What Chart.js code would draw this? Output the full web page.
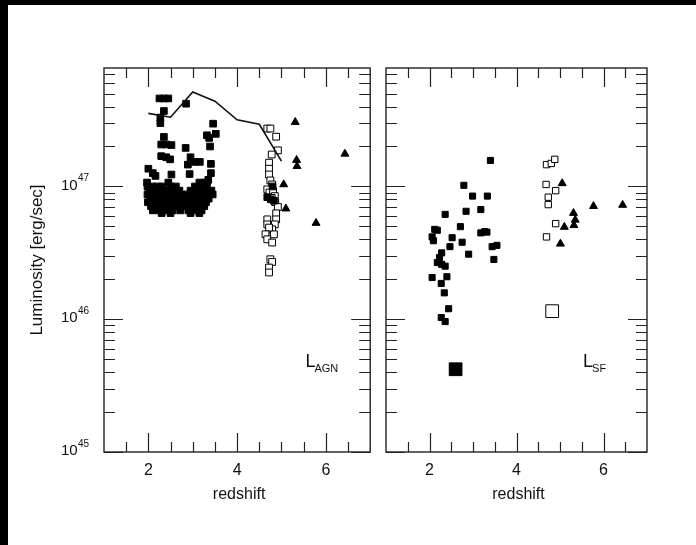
<!DOCTYPE html>
<html>
<head>
<meta charset="utf-8">
<script src="https://cdn.jsdelivr.net/npm/chart.js@4.4.1/dist/chart.umd.min.js"></script>
<style>
  html, body { margin: 0; padding: 0; background: #fff; }
  body { width: 696px; height: 545px; position: relative; overflow: hidden; }
  canvas { position: absolute; top: 0; }
  #left { left: 0; }
  #right { left: 376px; }
  .band { position: absolute; background: #000; z-index: 5; }
</style>
</head>
<body>
<div class="band" style="left:0;top:0;width:696px;height:5px"></div>
<div class="band" style="left:0;top:0;width:8px;height:545px"></div>
<canvas id="left" width="376" height="545"></canvas>
<canvas id="right" width="320" height="545"></canvas>
<script>
// axes
const xMin = 1, xMax = 7;
const yMin = 1e45, yMax = 7.8e47;
const xTickLabels = [2, 4, 6];
const xMinorTicks = [1.5, 2.5, 3, 3.5, 4.5, 5, 5.5, 6.5];
const yTickExps = [45, 46, 47];

// left panel: L_AGN
const agnFilled = [
  [2.25,4.6e47],[2.35,4.6e47],[2.45,4.6e47],[2.85,4.2e47],[2.35,3.7e47],
  [2.27,3.3e47],[2.27,3.0e47],[3.46,2.97e47],[3.32,2.43e47],[3.52,2.49e47],
  [3.37,2.32e47],[2.35,2.36e47],[3.39,2.0e47],[2.29,2.07e47],[2.40,2.07e47],
  [2.52,2.05e47],[2.84,1.95e47],[2.29,1.69e47],[2.40,1.66e47],[2.49,1.6e47],
  [2.95,1.66e47],[2.89,1.46e47],[3.04,1.53e47],[3.16,1.53e47],[3.41,1.48e47],
  [2.0,1.36e47],[2.1,1.26e47],[2.16,1.2e47],[2.52,1.23e47],[2.93,1.24e47],
  [3.41,1.26e47],[3.35,1.12e47],
  [1.97,1.07e47],[2.45,1.07e47],[3.15,1.07e47],[3.28,1.07e47],
  [1.98,1.0e47],[2.08,1.0e47],[2.2,1.0e47],[2.32,1.0e47],[2.5,1.0e47],[2.62,1.0e47],[3.05,1.0e47],[3.2,1.0e47],[3.32,1.0e47],
  [2.02,9.3e46],[2.14,9.3e46],[2.26,9.3e46],[2.4,9.3e46],[2.55,9.3e46],[2.7,9.3e46],[2.95,9.3e46],[3.1,9.3e46],[3.25,9.3e46],[3.42,9.3e46],
  [1.98,8.7e46],[2.1,8.7e46],[2.22,8.7e46],[2.35,8.7e46],[2.48,8.7e46],[2.6,8.7e46],[2.75,8.7e46],[2.88,8.7e46],[3.0,8.7e46],[3.15,8.7e46],[3.3,8.7e46],[3.45,8.7e46],
  [2.04,8.1e46],[2.16,8.1e46],[2.3,8.1e46],[2.42,8.1e46],[2.56,8.1e46],[2.68,8.1e46],[2.82,8.1e46],[2.95,8.1e46],[3.08,8.1e46],[3.22,8.1e46],[3.36,8.1e46],
  [1.99,7.6e46],[2.12,7.6e46],[2.25,7.6e46],[2.38,7.6e46],[2.5,7.6e46],[2.64,7.6e46],[2.78,7.6e46],[2.9,7.6e46],[3.02,7.6e46],[3.18,7.6e46],[3.3,7.6e46],
  [2.06,7.1e46],[2.2,7.1e46],[2.33,7.1e46],[2.46,7.1e46],[2.6,7.1e46],[2.74,7.1e46],[2.86,7.1e46],[3.0,7.1e46],[3.12,7.1e46],[3.26,7.1e46],
  [2.1,6.6e46],[2.26,6.6e46],[2.4,6.6e46],[2.55,6.6e46],[2.72,6.6e46],[2.9,6.6e46],[3.06,6.6e46],[3.2,6.6e46],
  [2.3,6.3e46],[2.5,6.3e46],[2.95,6.3e46],[3.15,6.3e46],
  [4.68,8.3e46],[4.76,8.0e46],[4.83,7.8e46],[4.8,1.0e47]
];
const agnOpen = [
  [4.68,2.73e47],[4.75,2.73e47],[4.88,2.37e47],[4.92,1.87e47],[4.78,1.74e47],
  [4.72,1.51e47],[4.72,1.36e47],[4.72,1.23e47],[4.75,1.11e47],[4.79,1.035e47],
  [4.68,9.5e46],[4.73,9.0e46],[4.81,9.2e46],[4.85,8.46e46],[4.78,8.2e46],
  [4.86,7.62e46],[4.92,7.0e46],[4.88,6.27e46],[4.88,5.65e46],[4.85,5.18e46],
  [4.79,4.75e46],[4.83,4.36e46],[4.68,5.65e46],[4.68,5.18e46],[4.72,4.9e46],
  [4.64,4.36e46],[4.68,4.0e46],[4.79,3.78e46],
  [4.75,2.83e46],[4.79,2.7e46],[4.72,2.45e46],[4.72,2.25e46]
];
const agnTriangles = [
  [5.31,3.05e47],[5.34,1.58e47],[5.35,1.42e47],[5.05,1.035e47],
  [5.10,6.8e46],[5.78,5.3e46],[6.43,1.76e47]
];
const agnLineZ = [2.0, 2.5, 3.0, 3.5, 4.0, 4.5, 5.0];
const agnLineL = [3.55e47, 3.32e47, 5.15e47, 4.39e47, 3.18e47, 2.94e47, 1.55e47];

// right panel: L_SF
const sfFilled = [
  [3.40,1.57e47],[2.79,1.02e47],[2.99,8.46e46],[3.33,8.46e46],[3.18,6.7e46],
  [2.84,6.5e46],[2.36,6.16e46],[2.71,4.98e46],[2.12,4.75e46],[2.18,4.68e46],
  [2.06,4.17e46],[2.09,3.9e46],[3.18,4.47e46],[3.27,4.57e46],[3.32,4.53e46],
  [2.52,4.11e46],[2.75,3.8e46],[2.47,3.52e46],[3.44,3.52e46],[3.55,3.6e46],
  [2.90,3.09e46],[2.28,3.16e46],[2.23,2.91e46],[2.18,2.67e46],[2.28,2.59e46],
  [2.36,2.51e46],[3.48,2.82e46],[2.40,2.09e46],[2.06,2.06e46],[2.27,1.86e46],
  [2.34,1.58e46],[2.44,1.2e46],[2.27,1.03e46],[2.36,9.6e45]
];
const sfOpen = [
  [4.69,1.46e47],[4.80,1.49e47],[4.88,1.6e47],[4.68,1.035e47],[4.90,9.3e46],
  [4.73,8.3e46],[4.73,7.3e46],[4.90,5.25e46],[4.69,4.17e46]
];
const sfTriangles = [
  [5.05,1.055e47],[5.77,7.1e46],[6.44,7.25e46],[5.31,6.3e46],
  [5.35,5.6e46],[5.32,5.1e46],[5.10,4.95e46],[5.01,3.7e46]
];
const sfBigFilled = [[2.60,4.2e45]];
const sfBigOpen = [[4.82,1.15e46]];

const FONT = "'Liberation Sans', Arial, sans-serif";

function pts(list) {
  return list.map(p => ({x: p[0], y: p[1]}));
}

function scatter(list, style, fill, radius) {
  return {
    type: 'scatter',
    data: pts(list),
    pointStyle: style,
    pointRadius: radius,
    pointBackgroundColor: fill,
    pointBorderColor: '#000',
    pointBorderWidth: 1,
    showLine: false
  };
}

const framePlugin = {
  id: 'framePlugin',
  afterDraw(chart, args, opts) {
    const ctx = chart.ctx, a = chart.chartArea;
    const xs = chart.scales.x, ys = chart.scales.y;
    ctx.save();
    ctx.strokeStyle = '#222';
    ctx.lineWidth = 1.4;
    ctx.strokeRect(a.left, a.top, a.right - a.left, a.bottom - a.top);

    ctx.beginPath();
    const xTick = (v, len) => {
      const px = Math.round(xs.getPixelForValue(v)) + 0.5;
      ctx.moveTo(px, a.bottom); ctx.lineTo(px, a.bottom - len);
      ctx.moveTo(px, a.top); ctx.lineTo(px, a.top + len);
    };
    xTickLabels.forEach(v => xTick(v, 19));
    xMinorTicks.forEach(v => xTick(v, 10));

    const yTick = (v, len) => {
      const py = Math.round(ys.getPixelForValue(v)) + 0.5;
      ctx.moveTo(a.left, py); ctx.lineTo(a.left + len, py);
      ctx.moveTo(a.right, py); ctx.lineTo(a.right - len, py);
    };
    yTickExps.forEach(e => {
      yTick(Math.pow(10, e), 19);
      for (let m = 2; m <= 9; m++) {
        const v = m * Math.pow(10, e);
        if (v < yMax) yTick(v, 11);
      }
    });
    ctx.lineWidth = 1.2;
    ctx.stroke();

    ctx.fillStyle = '#111';
    ctx.textAlign = 'center';
    ctx.textBaseline = 'middle';
    ctx.font = '16px ' + FONT;
    xTickLabels.forEach(v => ctx.fillText(String(v), xs.getPixelForValue(v), 471));
    ctx.fillText('redshift', (a.left + a.right) / 2 + 2, 495);

    if (opts.yLabels) {
      yTickExps.forEach(e => {
        const py = ys.getPixelForValue(Math.pow(10, e));
        ctx.textAlign = 'left';
        ctx.font = '15px ' + FONT;
        ctx.fillText('10', 61, py - 1);
        ctx.font = '10px ' + FONT;
        ctx.fillText(String(e), 78, py - 8);
      });
      ctx.save();
      ctx.translate(37, (a.top + a.bottom) / 2);
      ctx.rotate(-Math.PI / 2);
      ctx.textAlign = 'center';
      ctx.font = '17px ' + FONT;
      ctx.fillText('Luminosity [erg/sec]', 0, 0);
      ctx.restore();
    }

    // panel tag
    const lx = xs.getPixelForValue(opts.tagX), ly = ys.getPixelForValue(opts.tagY);
    ctx.textAlign = 'left';
    ctx.textBaseline = 'alphabetic';
    ctx.font = '18px ' + FONT;
    ctx.fillText('L', lx, ly);
    ctx.font = '11px ' + FONT;
    ctx.fillText(opts.tagSub, lx + 9, ly + 5);
    ctx.restore();
  }
};

function makeChart(id, datasets, padding, tag) {
  return new Chart(document.getElementById(id), {
    type: 'scatter',
    data: { datasets: datasets },
    options: {
      responsive: false,
      animation: false,
      layout: { padding: padding },
      plugins: {
        legend: { display: false },
        tooltip: { enabled: false },
        framePlugin: tag
      },
      scales: {
        x: { type: 'linear', min: xMin, max: xMax, display: false },
        y: { type: 'logarithmic', min: yMin, max: yMax, display: false }
      }
    },
    plugins: [framePlugin]
  });
}

makeChart('left', [
  {
    type: 'line',
    data: agnLineZ.map((z, i) => ({x: z, y: agnLineL[i]})),
    borderColor: '#111',
    borderWidth: 1.6,
    pointRadius: 0,
    tension: 0,
    fill: false
  },
  scatter(agnFilled, 'rect', '#000', 4.7),
  scatter(agnOpen, 'rect', '#fff', 4.8),
  scatter(agnTriangles, 'triangle', '#000', 4.6)
], {left: 104, right: 3, top: 68, bottom: 93},
   {yLabels: true, tagX: 5.54, tagY: 4.4e45, tagSub: 'AGN'});

makeChart('right', [
  scatter(sfFilled, 'rect', '#000', 4.3),
  scatter(sfOpen, 'rect', '#fff', 4.5),
  scatter(sfTriangles, 'triangle', '#000', 4.6),
  scatter(sfBigFilled, 'rect', '#000', 9),
  scatter(sfBigOpen, 'rect', '#fff', 9)
], {left: 2, right: 49, top: 68, bottom: 93},
   {yLabels: false, tagX: 5.53, tagY: 4.4e45, tagSub: 'SF'});
</script>
</body>
</html>
